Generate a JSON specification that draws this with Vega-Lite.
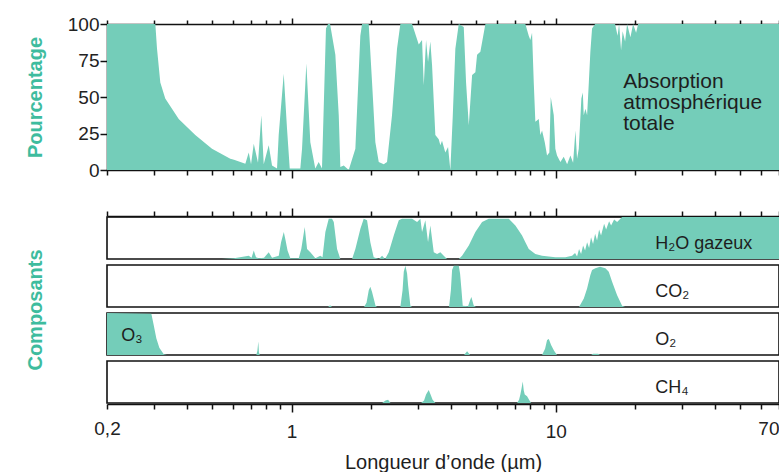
{
  "$schema": "https://vega.github.io/schema/vega-lite/v6.json",
  "background": "white",
  "padding": {"left": 25, "top": 15, "right": 0, "bottom": 0},
  "config": {
    "font": "Liberation Sans",
    "view": {"stroke": null},
    "axis": {"domainColor": "#111", "tickColor": "#111", "domainWidth": 1.6, "tickWidth": 1.5, "labelColor": "#222", "labelFontSize": 19, "grid": false, "zindex": 1, "labelOverlap": false}
  },
  "datasets": {
    "total": [
      {"w":0.2,"p":100},{"w":0.3048,"p":100},{"w":0.3093,"p":83},{"w":0.3183,"p":60},{"w":0.3323,"p":49},{"w":0.3737,"p":35},{"w":0.4317,"p":24},{"w":0.4995,"p":14.6},{"w":0.5858,"p":7.7},{"w":0.605,"p":7},{"w":0.668,"p":4.3},{"w":0.688,"p":12},{"w":0.702,"p":4},{"w":0.7188,"p":18},{"w":0.746,"p":5},{"w":0.7678,"p":37.5},{"w":0.784,"p":4},{"w":0.819,"p":17},{"w":0.843,"p":3},{"w":0.8805,"p":1},{"w":0.8934,"p":24},{"w":0.9335,"p":66},{"w":0.9608,"p":28},{"w":0.9836,"p":1},{"w":1.0787,"p":1},{"w":1.095,"p":14.6},{"w":1.137,"p":73},{"w":1.177,"p":19},{"w":1.229,"p":1},{"w":1.266,"p":5.4},{"w":1.303,"p":1},{"w":1.349,"p":97},{"w":1.373,"p":100},{"w":1.398,"p":100},{"w":1.464,"p":79},{"w":1.508,"p":37.5},{"w":1.529,"p":2},{"w":1.575,"p":3},{"w":1.645,"p":0},{"w":1.743,"p":14.6},{"w":1.82,"p":92},{"w":1.848,"p":100},{"w":1.958,"p":100},{"w":2.016,"p":60},{"w":2.075,"p":19},{"w":2.137,"p":5.4},{"w":2.232,"p":4},{"w":2.297,"p":5.4},{"w":2.399,"p":37.5},{"w":2.506,"p":83},{"w":2.58,"p":100},{"w":2.858,"p":100},{"w":3.029,"p":86},{"w":3.117,"p":89},{"w":3.164,"p":58},{"w":3.228,"p":89},{"w":3.284,"p":74},{"w":3.351,"p":88},{"w":3.401,"p":72},{"w":3.5,"p":24},{"w":3.605,"p":21},{"w":3.656,"p":17},{"w":3.71,"p":20},{"w":3.818,"p":12},{"w":3.91,"p":15.7},{"w":3.989,"p":0},{"w":4.074,"p":37},{"w":4.167,"p":83},{"w":4.293,"p":100},{"w":4.484,"p":98},{"w":4.575,"p":60},{"w":4.685,"p":30.6},{"w":4.822,"p":65},{"w":4.962,"p":67},{"w":5.036,"p":79},{"w":5.183,"p":81},{"w":5.414,"p":100},{"w":7.672,"p":100},{"w":7.901,"p":92},{"w":8.013,"p":89},{"w":8.132,"p":94},{"w":8.254,"p":60},{"w":8.37,"p":33},{"w":8.622,"p":35},{"w":8.744,"p":24},{"w":8.874,"p":27},{"w":9.085,"p":19},{"w":9.268,"p":10},{"w":9.456,"p":12},{"w":9.572,"p":50},{"w":9.827,"p":37.5},{"w":9.963,"p":14.6},{"w":10.11,"p":10},{"w":10.41,"p":5.4},{"w":10.72,"p":9},{"w":11.04,"p":4},{"w":11.36,"p":10},{"w":11.63,"p":5},{"w":11.87,"p":27},{"w":12.04,"p":7.7},{"w":12.22,"p":14.6},{"w":12.5,"p":49},{"w":12.66,"p":53},{"w":12.76,"p":37.5},{"w":12.95,"p":42},{"w":13.14,"p":37.5},{"w":13.34,"p":60},{"w":13.52,"p":81},{"w":13.72,"p":97},{"w":14.09,"p":100},{"w":16.77,"p":100},{"w":17.14,"p":92},{"w":17.37,"p":100},{"w":17.67,"p":82},{"w":17.91,"p":95},{"w":18.3,"p":88},{"w":18.62,"p":100},{"w":19.17,"p":91},{"w":19.62,"p":100},{"w":20.14,"p":94},{"w":20.5,"p":100},{"w":70,"p":100}
    ],
    "totalLabel": [
      {"w":18.0,"p":56.5,"t":"Absorption\natmosphérique\ntotale"}
    ],
    "comp": [
      {"c":"H2O","w":0.2,"p":0},{"c":"H2O","w":0.545,"p":0},{"c":"H2O","w":0.605,"p":2},{"c":"H2O","w":0.688,"p":8},{"c":"H2O","w":0.705,"p":3},{"c":"H2O","w":0.719,"p":20},{"c":"H2O","w":0.733,"p":4},{"c":"H2O","w":0.751,"p":2},{"c":"H2O","w":0.786,"p":3},{"c":"H2O","w":0.819,"p":16},{"c":"H2O","w":0.843,"p":3},{"c":"H2O","w":0.894,"p":8},{"c":"H2O","w":0.912,"p":40},{"c":"H2O","w":0.934,"p":64},{"c":"H2O","w":0.948,"p":45},{"c":"H2O","w":0.965,"p":20},{"c":"H2O","w":0.989,"p":2},{"c":"H2O","w":1.064,"p":2},{"c":"H2O","w":1.088,"p":24},{"c":"H2O","w":1.121,"p":76},{"c":"H2O","w":1.144,"p":24},{"c":"H2O","w":1.177,"p":16},{"c":"H2O","w":1.23,"p":2},{"c":"H2O","w":1.284,"p":8},{"c":"H2O","w":1.309,"p":4},{"c":"H2O","w":1.342,"p":64},{"c":"H2O","w":1.382,"p":96},{"c":"H2O","w":1.422,"p":96},{"c":"H2O","w":1.444,"p":88},{"c":"H2O","w":1.486,"p":24},{"c":"H2O","w":1.529,"p":0},{"c":"H2O","w":1.694,"p":0},{"c":"H2O","w":1.743,"p":24},{"c":"H2O","w":1.821,"p":72},{"c":"H2O","w":1.875,"p":96},{"c":"H2O","w":1.93,"p":92},{"c":"H2O","w":1.986,"p":40},{"c":"H2O","w":2.045,"p":4},{"c":"H2O","w":2.142,"p":0},{"c":"H2O","w":2.2,"p":8},{"c":"H2O","w":2.258,"p":0},{"c":"H2O","w":2.332,"p":16},{"c":"H2O","w":2.436,"p":56},{"c":"H2O","w":2.545,"p":92},{"c":"H2O","w":2.618,"p":96},{"c":"H2O","w":2.858,"p":96},{"c":"H2O","w":2.985,"p":88},{"c":"H2O","w":3.072,"p":96},{"c":"H2O","w":3.117,"p":64},{"c":"H2O","w":3.208,"p":92},{"c":"H2O","w":3.284,"p":40},{"c":"H2O","w":3.351,"p":80},{"c":"H2O","w":3.452,"p":16},{"c":"H2O","w":3.554,"p":12},{"c":"H2O","w":3.656,"p":16},{"c":"H2O","w":3.766,"p":8},{"c":"H2O","w":3.876,"p":0},{"c":"H2O","w":4.293,"p":0},{"c":"H2O","w":4.418,"p":8},{"c":"H2O","w":4.685,"p":32},{"c":"H2O","w":4.962,"p":64},{"c":"H2O","w":5.26,"p":88},{"c":"H2O","w":5.576,"p":96},{"c":"H2O","w":6.638,"p":96},{"c":"H2O","w":7.031,"p":80},{"c":"H2O","w":7.454,"p":56},{"c":"H2O","w":7.672,"p":40},{"c":"H2O","w":7.903,"p":24},{"c":"H2O","w":8.368,"p":12},{"c":"H2O","w":8.873,"p":8},{"c":"H2O","w":9.966,"p":4},{"c":"H2O","w":10.87,"p":4},{"c":"H2O","w":11.53,"p":8},{"c":"H2O","w":11.83,"p":14},{"c":"H2O","w":12.04,"p":6},{"c":"H2O","w":12.25,"p":24},{"c":"H2O","w":12.47,"p":12},{"c":"H2O","w":12.69,"p":32},{"c":"H2O","w":12.91,"p":20},{"c":"H2O","w":13.14,"p":40},{"c":"H2O","w":13.37,"p":26},{"c":"H2O","w":13.6,"p":52},{"c":"H2O","w":13.84,"p":36},{"c":"H2O","w":14.09,"p":60},{"c":"H2O","w":14.33,"p":44},{"c":"H2O","w":14.59,"p":70},{"c":"H2O","w":14.84,"p":56},{"c":"H2O","w":15.24,"p":84},{"c":"H2O","w":15.51,"p":70},{"c":"H2O","w":15.92,"p":90},{"c":"H2O","w":16.2,"p":80},{"c":"H2O","w":16.63,"p":94},{"c":"H2O","w":17.07,"p":88},{"c":"H2O","w":17.83,"p":100},{"c":"H2O","w":70,"p":100},
      {"c":"CO2","w":0.2,"p":0},{"c":"CO2","w":1.374,"p":0},{"c":"CO2","w":1.398,"p":4},{"c":"CO2","w":1.422,"p":0},{"c":"CO2","w":1.88,"p":0},{"c":"CO2","w":1.921,"p":10},{"c":"CO2","w":1.959,"p":40},{"c":"CO2","w":1.986,"p":48},{"c":"CO2","w":2.016,"p":36},{"c":"CO2","w":2.045,"p":20},{"c":"CO2","w":2.078,"p":3},{"c":"CO2","w":2.106,"p":0},{"c":"CO2","w":2.58,"p":0},{"c":"CO2","w":2.63,"p":40},{"c":"CO2","w":2.658,"p":84},{"c":"CO2","w":2.696,"p":98},{"c":"CO2","w":2.736,"p":80},{"c":"CO2","w":2.76,"p":52},{"c":"CO2","w":2.816,"p":3},{"c":"CO2","w":2.858,"p":0},{"c":"CO2","w":3.944,"p":0},{"c":"CO2","w":4.008,"p":40},{"c":"CO2","w":4.05,"p":88},{"c":"CO2","w":4.111,"p":98},{"c":"CO2","w":4.293,"p":98},{"c":"CO2","w":4.342,"p":80},{"c":"CO2","w":4.391,"p":44},{"c":"CO2","w":4.444,"p":3},{"c":"CO2","w":4.655,"p":2},{"c":"CO2","w":4.737,"p":16},{"c":"CO2","w":4.792,"p":24},{"c":"CO2","w":4.894,"p":3},{"c":"CO2","w":4.992,"p":0},{"c":"CO2","w":12.25,"p":0},{"c":"CO2","w":12.77,"p":20},{"c":"CO2","w":13.14,"p":44},{"c":"CO2","w":13.52,"p":76},{"c":"CO2","w":13.72,"p":88},{"c":"CO2","w":14.12,"p":92},{"c":"CO2","w":14.71,"p":96},{"c":"CO2","w":15.41,"p":92},{"c":"CO2","w":15.87,"p":84},{"c":"CO2","w":16.34,"p":60},{"c":"CO2","w":17.07,"p":28},{"c":"CO2","w":17.83,"p":3},{"c":"CO2","w":18.3,"p":0},{"c":"CO2","w":70,"p":0},
      {"c":"O2","w":0.2,"p":100},{"c":"O2","w":0.2944,"p":98},{"c":"O2","w":0.3006,"p":71},{"c":"O2","w":0.3074,"p":40},{"c":"O2","w":0.3156,"p":17},{"c":"O2","w":0.328,"p":2},{"c":"O2","w":0.3375,"p":0},{"c":"O2","w":0.735,"p":0},{"c":"O2","w":0.742,"p":10},{"c":"O2","w":0.748,"p":32},{"c":"O2","w":0.752,"p":6},{"c":"O2","w":0.758,"p":0},{"c":"O2","w":4.496,"p":0},{"c":"O2","w":4.616,"p":9},{"c":"O2","w":4.737,"p":0},{"c":"O2","w":8.873,"p":0},{"c":"O2","w":9.11,"p":15},{"c":"O2","w":9.27,"p":36},{"c":"O2","w":9.41,"p":38},{"c":"O2","w":9.6,"p":24},{"c":"O2","w":9.854,"p":10},{"c":"O2","w":10.11,"p":0},{"c":"O2","w":13.6,"p":0},{"c":"O2","w":13.84,"p":3},{"c":"O2","w":14.46,"p":3},{"c":"O2","w":14.71,"p":0},{"c":"O2","w":70,"p":0},
      {"c":"CH4","w":0.2,"p":0},{"c":"CH4","w":2.2,"p":0},{"c":"CH4","w":2.268,"p":6},{"c":"CH4","w":2.318,"p":8},{"c":"CH4","w":2.368,"p":0},{"c":"CH4","w":3.09,"p":0},{"c":"CH4","w":3.172,"p":6},{"c":"CH4","w":3.228,"p":20},{"c":"CH4","w":3.304,"p":31},{"c":"CH4","w":3.357,"p":20},{"c":"CH4","w":3.417,"p":8},{"c":"CH4","w":3.502,"p":0},{"c":"CH4","w":7.136,"p":0},{"c":"CH4","w":7.262,"p":8},{"c":"CH4","w":7.344,"p":20},{"c":"CH4","w":7.422,"p":35},{"c":"CH4","w":7.499,"p":51},{"c":"CH4","w":7.565,"p":30},{"c":"CH4","w":7.631,"p":20},{"c":"CH4","w":7.786,"p":16},{"c":"CH4","w":7.923,"p":8},{"c":"CH4","w":8.063,"p":0},{"c":"CH4","w":70,"p":0},
      {"c":"H2O","w":23.8,"p":25,"t":"H₂O gazeux"},
      {"c":"CO2","w":23.8,"p":25,"t":"CO₂"},
      {"c":"O2","w":23.8,"p":25,"t":"O₂"},
      {"c":"O2","w":0.2265,"p":34,"t":"O₃"},
      {"c":"CH4","w":23.8,"p":25,"t":"CH₄"}
    ]
  },
  "spacing": 27,
  "vconcat": [
    {
      "width": 672,
      "height": 146,
      "layer": [
        {
          "data": {"name": "total"},
          "mark": {"type": "area", "color": "#74CDB9", "interpolate": "linear"},
          "encoding": {
            "x": {"field": "w", "type": "quantitative", "scale": {"type": "log", "domain": [0.2, 70]},
              "axis": {"orient": "bottom", "values": [0.2,0.3,0.4,0.5,0.6,0.7,0.8,0.9,1,2,3,4,5,6,7,8,9,10,20,30,40,50,60,70], "labels": false, "title": null,
                "tickSize": {"condition": {"test": "datum.value == 1 || datum.value == 10", "value": 8}, "value": 5}}},
            "y": {"field": "p", "type": "quantitative", "scale": {"domain": [0, 100]},
              "axis": {"orient": "left", "values": [0, 25, 50, 75, 100], "labelOverlap": false, "title": "Pourcentage", "titleColor": "#3EBC9E", "titleFontSize": 20, "titleFontWeight": "bold", "titlePadding": 22, "tickSize": 7, "labelPadding": 1}}
          }
        },
        {
          "data": {"name": "totalLabel"},
          "mark": {"type": "text", "align": "left", "baseline": "alphabetic", "fontSize": 21, "lineHeight": 21, "lineBreak": "\n", "color": "#1e1e1e"},
          "encoding": {
            "x": {"field": "w", "type": "quantitative", "scale": {"type": "log", "domain": [0.2, 70]},
              "axis": {"orient": "top", "values": [0.2,0.3,0.4,0.5,0.6,0.7,0.8,0.9,1,2,3,4,5,6,7,8,9,10,20,30,40,50,60,70], "labels": false, "title": null, "domain": true,
                "tickSize": {"condition": {"test": "datum.value == 1 || datum.value == 10", "value": 6}, "value": 4}}},
            "y": {"field": "p", "type": "quantitative", "scale": {"domain": [0, 100]},
              "axis": {"orient": "left", "values": [0, 25, 50, 75, 100], "labelOverlap": false, "title": "Pourcentage", "titleColor": "#3EBC9E", "titleFontSize": 20, "titleFontWeight": "bold", "titlePadding": 22, "tickSize": 7, "labelPadding": 1}},
            "text": {"field": "t"}
          }
        }
      ]
    },
    {
      "data": {"name": "comp"},
      "facet": {
        "row": {"field": "c", "type": "nominal", "sort": ["H2O", "CO2", "O2", "CH4"],
          "header": {"title": "Composants", "labels": false, "titleFontSize": 20, "titleFontWeight": "bold", "titleColor": "#3EBC9E", "titlePadding": 50}}
      },
      "spacing": {"row": 4},
      "spec": {
        "width": 672,
        "height": 42,
        "view": {"stroke": "#111", "strokeWidth": 1.6},
        "layer": [
          {
            "transform": [{"filter": "!isValid(datum.t)"}],
            "mark": {"type": "area", "color": "#74CDB9", "interpolate": "linear"},
            "encoding": {
              "x": {"field": "w", "type": "quantitative", "scale": {"type": "log", "domain": [0.2, 70]},
                "axis": {"orient": "top", "values": [0.2,0.3,0.4,0.5,0.6,0.7,0.8,0.9,1,2,3,4,5,6,7,8,9,10,20,30,40,50,60,70], "labels": false, "title": null,
                  "tickSize": {"condition": {"test": "datum.value == 1 || datum.value == 10", "value": 8}, "value": 5}}},
              "y": {"field": "p", "type": "quantitative", "scale": {"domain": [0, 100]}, "axis": null}
            }
          },
          {
            "transform": [{"filter": "isValid(datum.t)"}],
            "mark": {"type": "text", "align": "left", "baseline": "alphabetic", "fontSize": 18, "color": "#1e1e1e"},
            "encoding": {
              "x": {"field": "w", "type": "quantitative", "scale": {"type": "log", "domain": [0.2, 70]},
                "axis": {"orient": "bottom", "values": [0.2,0.3,0.4,0.5,0.6,0.7,0.8,0.9,1,2,3,4,5,6,7,8,9,10,20,30,40,50,60,70],
                  "labelExpr": "datum.value == 0.2 ? '0,2' : datum.value == 1 ? '1' : datum.value == 10 ? '10' : datum.value == 70 ? '70' : ''",
                  "labelAlign": {"condition": {"test": "datum.value == 70", "value": "right"}, "value": "center"},
                  "labelPadding": 10,
                  "title": "Longueur d’onde (µm)", "titleFontSize": 20, "titleFontWeight": "normal", "titleColor": "#1e1e1e", "titlePadding": 11,
                  "tickSize": {"condition": {"test": "datum.value == 1 || datum.value == 10", "value": 8}, "value": 5}}},
              "y": {"field": "p", "type": "quantitative", "scale": {"domain": [0, 100]}, "axis": null},
              "text": {"field": "t"}
            }
          }
        ]
      }
    }
  ]
}
